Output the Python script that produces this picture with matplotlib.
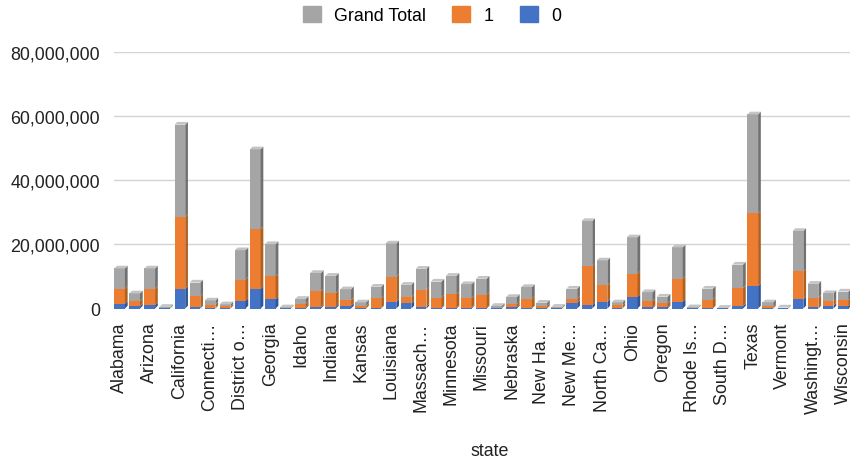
import numpy as np
import matplotlib
matplotlib.use("Agg")
import matplotlib.pyplot as plt
from matplotlib.patches import Polygon, Patch
from matplotlib.ticker import FuncFormatter

plt.rcParams['font.family'] = ['Liberation Sans', 'DejaVu Sans']

# states in chart order (Wyoming is off the right edge of the picture)
states = ["Alabama", "Alaska", "Arizona", "Arkansas", "California", "Colorado",
          "Connecticut", "Delaware", "District of Columbia", "Florida", "Georgia",
          "Hawaii", "Idaho", "Illinois", "Indiana", "Iowa", "Kansas", "Kentucky",
          "Louisiana", "Maryland", "Massachusetts", "Michigan", "Minnesota",
          "Mississippi", "Missouri", "Montana", "Nebraska", "Nevada",
          "New Hampshire", "New Jersey", "New Mexico", "New York", "North Carolina",
          "North Dakota", "Ohio", "Oklahoma", "Oregon", "Pennsylvania",
          "Rhode Island", "South Carolina", "South Dakota", "Tennessee", "Texas",
          "Utah", "Vermont", "Virginia", "Washington", "West Virginia", "Wisconsin"]

# only every other label is shown, truncated like the original
tick_labels = ["Alabama", "Arizona", "California", "Connecti…", "District o…",
               "Georgia", "Idaho", "Indiana", "Kansas", "Louisiana", "Massach…",
               "Minnesota", "Missouri", "Nebraska", "New Ha…", "New Me…",
               "North Ca…", "Ohio", "Oregon", "Rhode Is…", "South D…", "Texas",
               "Vermont", "Washingt…", "Wisconsin"]

# values in millions
zero_vals = [1.5, 0.7, 1.1, 0.05, 6.1, 0.4, 0.15, 0.05, 2.4, 6.1, 2.9,
             0.05, 0.3, 0.4, 0.6, 0.9, 0.1, 0.15, 2.1, 1.6, 0.6, 0.3, 0.2,
             0.3, 0.2, 0.05, 0.5, 0.2, 0.1, 0.02, 1.8, 1.0, 2.1, 0.1, 3.6,
             0.4, 0.4, 2.1, 0.05, 0.05, 0.02, 0.8, 7.0, 0.1, 0.01, 2.9, 0.4,
             0.9, 0.7]
one_vals = [4.7, 1.6, 5.1, 0.2, 22.5, 3.4, 1.05, 0.6, 6.6, 18.6, 7.1,
            0.12, 1.2, 5.0, 4.2, 1.8, 0.75, 3.05, 7.8, 2.0, 5.2, 3.1, 4.2,
            3.0, 4.1, 0.25, 1.0, 2.9, 0.6, 0.25, 1.3, 12.2, 5.1, 0.9, 7.2,
            1.8, 1.2, 7.2, 0.12, 2.75, 0.06, 5.6, 22.7, 0.6, 0.15, 8.7, 3.0,
            1.4, 1.8]
total_vals = [6.3, 2.4, 6.3, 0.25, 28.8, 4.3, 1.3, 0.65, 9.2, 25.0, 10.1,
              0.18, 1.5, 5.7, 5.4, 3.3, 1.05, 3.6, 10.4, 3.8, 6.6, 5.0, 5.8,
              4.3, 5.0, 0.5, 2.1, 3.6, 1.1, 0.25, 3.1, 14.1, 7.8, 0.9, 11.4,
              2.9, 2.1, 9.8, 0.2, 3.4, 0.1, 7.3, 30.9, 1.2, 0.15, 12.6, 4.3,
              2.5, 2.8]

# (label, values, front colour, side colour) from bottom to top
series = [("0", zero_vals, "#4472c4", "#2f5597"),
          ("1", one_vals, "#ed7d31", "#b0601f"),
          ("Grand Total", total_vals, "#a5a5a5", "#717171")]

FS = 12.9

fig = plt.figure(figsize=(8.5, 4.6), dpi=100)
ax = fig.add_axes([114 / 850, 1 - 309.5 / 460, 736 / 850, (309.5 - 53.3) / 460])

x = np.arange(len(states))
w = 0.71
dx, dy = 0.18, 0.85e6   # fake 3d depth
bottom = np.zeros(len(states))
for name, vals, face, side in series:
    vals = np.array(vals) * 1e6
    ax.bar(x, vals, w, bottom=bottom, color=face, linewidth=0, zorder=3)
    for xi, b, v in zip(x, bottom, vals):
        r = xi + w / 2
        ax.add_patch(Polygon([(r, b), (r + dx, b + dy), (r + dx, b + v + dy), (r, b + v)],
                             closed=True, fc=side, ec='none', zorder=3))
    bottom = bottom + vals

# top caps
for xi, t in zip(x, bottom):
    l = xi - w / 2
    ax.add_patch(Polygon([(l, t), (l + dx, t + dy), (l + w + dx, t + dy), (l + w, t)],
                         closed=True, fc='#c4c4c4', ec='none', zorder=3))

ax.set_xlim(-0.37, 48.45)
ax.set_ylim(0, 80e6)
ax.set_yticks([0, 20e6, 40e6, 60e6, 80e6])
ax.yaxis.set_major_formatter(FuncFormatter(lambda v, p: f"{v:,.0f}"))
ax.yaxis.grid(True, color='#d3d3d3', linewidth=1)
ax.set_axisbelow(True)
for s in ax.spines.values():
    s.set_visible(False)

ax.set_xticks(x[::2])
ax.set_xticklabels(tick_labels, rotation=90)
ax.tick_params(axis='both', length=0, labelsize=FS, colors='#222222')
ax.tick_params(axis='x', pad=9.5)
ax.tick_params(axis='y', pad=10)

ax.set_xlabel("state", fontsize=FS, color='#222222')
ax.xaxis.set_label_coords(0.511, -0.521)

handles = [Patch(color=c, label=n) for n, _, c, _ in reversed(series)]
fig.legend(handles=handles, loc='center', ncol=3, frameon=False,
           bbox_to_anchor=(432 / 850, 1 - 16 / 460), fontsize=FS,
           handlelength=1.0, handleheight=1.0, handletextpad=0.75,
           columnspacing=1.45)

fig.savefig("out.png", dpi=100)
